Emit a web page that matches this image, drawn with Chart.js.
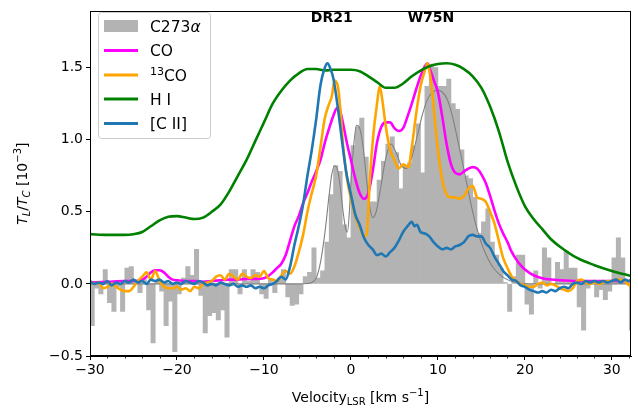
<!DOCTYPE html>
<html><head><meta charset="utf-8">
<script src="https://cdn.jsdelivr.net/npm/chart.js@4/dist/chart.umd.min.js"></script>
<style>html,body{margin:0;padding:0;background:#fff}</style>
</head><body>
<canvas id="c" width="638" height="409"></canvas>
<script>
// ---------------- DATA ----------------
// C273alpha recombination line spectrum: 0.5 km/s channels starting at -30 km/s
const rrlStart = -30, rrlChannel = 0.5;
const rrlValues = [
 -0.29,-0.03,-0.07,0.10,-0.13,-0.19,-0.02,-0.19,0.11,0.12,
 0.02,-0.06,0.03,-0.18,-0.41,0.03,-0.05,-0.29,-0.12,-0.47,
 -0.07,0.04,0.12,0.06,0.24,-0.08,-0.34,-0.22,-0.20,-0.25,
 -0.18,-0.37,0.10,0.10,-0.07,0.10,0.02,0.10,0.08,-0.07,
 -0.10,0.03,-0.06,0.04,0.10,-0.09,-0.15,-0.14,-0.07,0.05,
 0.08,0.25,0.04,0.09,0.29,0.62,0.82,0.78,0.41,0.32,
 0.96,1.09,1.15,0.88,0.57,0.57,0.72,0.85,0.97,1.02,
 0.91,0.66,0.82,0.84,0.96,1.11,0.77,1.37,1.52,1.50,
 1.37,1.37,1.42,1.25,1.21,0.93,0.75,0.73,0.60,0.35,
 0.43,0.52,0.29,0.20,0.11,0.01,-0.19,0.05,0.20,0.20,
 -0.14,-0.21,0.09,-0.03,0.25,0.18,0.00,0.15,0.10,0.23,
 0.11,0.11,-0.16,-0.32,-0.03,0.01,-0.09,-0.04,-0.11,-0.05,
 0.18,0.32,0.18,0.01,-0.32
];
// Gaussian fit to the recombination line
const fitVel = [-30,-10,-6,-5,-4.5,-4,-3.5,-3,-2.5,-2.2,-1.85,-1.5,-1.2,-0.9,-0.6,-0.4,-0.2,0,0.3,0.65,1.0,1.4,1.8,2.2,2.5,2.9,3.4,4.0,4.6,5.2,5.8,6.4,7.0,7.6,8.2,8.8,9.4,10.0,10.5,11.0,11.6,12.2,12.8,13.4,14.0,14.6,15.2,15.8,16.4,17.0,17.8,18.6,19.5,22,32.2];
const fitVal = [0,0,0,0.003,0.01,0.04,0.15,0.35,0.62,0.76,0.82,0.78,0.66,0.50,0.38,0.36,0.48,0.70,0.95,1.10,1.08,0.95,0.72,0.52,0.46,0.50,0.66,0.87,0.97,0.91,0.82,0.80,0.88,1.02,1.17,1.28,1.33,1.345,1.33,1.29,1.18,1.02,0.85,0.67,0.50,0.36,0.25,0.17,0.11,0.07,0.035,0.015,0.005,0,0];

const hiVel = [-30,-28,-26,-25,-24,-23,-22,-21,-20,-19,-18,-17,-16,-15,-14,-13,-12,-11,-10,-9,-8,-7,-6,-5,-4,-3,-2,-1,0,1,2,3,4,5,6,7,8,9,10,11,12,13,14,15,16,17,18,19,20,21,22,23,24,26,28,30,32.2];
const hiVal = [0.345,0.34,0.34,0.345,0.36,0.40,0.44,0.465,0.47,0.46,0.45,0.46,0.50,0.55,0.64,0.75,0.86,0.99,1.12,1.25,1.34,1.41,1.46,1.49,1.49,1.48,1.485,1.485,1.485,1.475,1.44,1.40,1.36,1.36,1.39,1.44,1.48,1.51,1.525,1.53,1.52,1.49,1.44,1.36,1.23,1.06,0.85,0.68,0.54,0.45,0.38,0.31,0.26,0.18,0.13,0.09,0.055];

const coVel = [-30,-28,-26,-25,-24,-23.5,-23,-22.5,-22,-21.5,-21,-20.5,-20,-19,-18,-17,-16,-15,-14,-13,-12,-11,-10,-9.5,-9,-8.5,-8,-7.5,-7,-6.5,-6,-5.5,-5,-4.5,-4,-3.5,-3,-2.5,-2,-1.6,-1.2,-0.8,-0.4,0,0.5,1,1.5,2,2.5,3,3.5,4,4.5,5,5.5,6,6.5,7,7.5,8,8.5,8.8,9.2,9.6,10,10.5,11,11.5,12,12.5,13,13.5,14,14.5,15,15.5,16,16.5,17,17.5,18,18.5,19,19.5,20,21,22,23,24,26,28,30,32.2];
const coVal = [0.01,0.015,0.02,0.02,0.03,0.05,0.08,0.095,0.095,0.08,0.05,0.03,0.025,0.02,0.02,0.015,0.02,0.025,0.03,0.03,0.035,0.035,0.04,0.055,0.08,0.11,0.14,0.20,0.30,0.40,0.47,0.56,0.63,0.71,0.78,0.86,0.98,1.08,1.17,1.22,1.19,1.08,0.96,0.86,0.73,0.63,0.59,0.63,0.78,0.98,1.09,1.12,1.12,1.08,1.06,1.08,1.16,1.25,1.35,1.44,1.51,1.53,1.47,1.40,1.33,1.16,0.97,0.83,0.77,0.76,0.78,0.80,0.81,0.80,0.76,0.70,0.61,0.51,0.42,0.35,0.29,0.22,0.17,0.13,0.10,0.06,0.04,0.03,0.025,0.02,0.02,0.02,0.02];

const co13Vel = [-30,-29.5,-29,-28.5,-28,-27.5,-27,-26.5,-26,-25.5,-25,-24.5,-24,-23.5,-23,-22.5,-22,-21.5,-21,-20.5,-20,-19.5,-19,-18.5,-18,-17.5,-17,-16.5,-16,-15.5,-15,-14.5,-14,-13.5,-13,-12.5,-12,-11.5,-11,-10.5,-10,-9.5,-9,-8.5,-8,-7.5,-7,-6.5,-6,-5.5,-5,-4.5,-4,-3.5,-3,-2.5,-2.2,-1.9,-1.5,-1.2,-0.9,-0.5,0,0.5,1,1.5,1.8,2.2,2.6,3.0,3.3,3.6,3.9,4.2,4.5,5,5.5,6,6.3,6.6,7,7.5,8,8.5,8.8,9.1,9.4,9.7,10,10.5,11,11.5,12,12.5,13,13.5,14,14.5,15,15.5,16,16.5,17,17.5,18,18.5,19,19.5,20,20.5,21,21.5,22,22.5,23,23.5,24,24.5,25,25.5,26,26.5,27,27.5,28,28.5,29,29.5,30,30.5,31,31.5,32,32.2];
const co13Val = [0.02,0.0,0.01,-0.03,-0.02,0.0,-0.02,-0.04,-0.05,-0.05,-0.02,0.02,0.05,0.08,0.03,0.09,0.02,-0.02,-0.03,-0.03,-0.02,-0.04,-0.03,-0.05,-0.02,-0.03,0.0,0.01,0.02,0.05,0.06,0.03,0.07,0.05,0.03,0.07,0.05,0.04,0.06,0.05,0.09,0.04,0.03,0.02,0.06,0.09,0.07,0.12,0.22,0.34,0.50,0.63,0.75,0.95,1.15,1.25,1.30,1.41,1.37,1.20,0.96,0.75,0.59,0.47,0.39,0.33,0.34,0.75,1.05,1.25,1.37,1.28,1.14,1.02,0.93,0.86,0.80,0.83,0.82,0.81,0.95,1.18,1.37,1.48,1.53,1.45,1.30,1.10,0.93,0.72,0.62,0.60,0.60,0.59,0.61,0.66,0.68,0.60,0.59,0.57,0.50,0.42,0.30,0.18,0.11,0.05,0.02,0.0,-0.01,-0.02,-0.02,0.0,0.01,-0.01,0.0,-0.01,-0.03,-0.04,-0.05,-0.03,0.02,0.03,0.01,0.0,0.01,0.0,0.01,0.02,0.02,0.03,0.03,0.02,-0.01,0.01];

const ciiVel = [-30,-29.5,-29,-28.5,-28,-27.5,-27,-26.5,-26,-25.5,-25,-24.5,-24,-23.5,-23,-22.5,-22,-21.5,-21,-20.5,-20,-19.5,-19,-18.5,-18,-17.5,-17,-16.5,-16,-15.5,-15,-14.5,-14,-13.5,-13,-12.5,-12,-11.5,-11,-10.5,-10,-9.5,-9,-8.5,-8,-7.5,-7,-6.5,-6,-5.5,-5,-4.5,-4,-3.5,-3,-2.7,-2.4,-2,-1.5,-1,-0.5,0,0.5,1,1.5,2,2.5,3,3.5,4,4.5,5,5.5,6,6.5,7,7.3,7.6,8,8.5,9,9.5,10,10.5,11,11.5,12,12.5,13,13.5,14,14.5,15,15.5,16,16.5,17,17.5,18,18.5,19,19.5,20,20.5,21,21.5,22,22.5,23,23.5,24,24.5,25,25.5,26,26.5,27,27.5,28,28.5,29,29.5,30,30.5,31,31.5,32,32.2];
const ciiVal = [0.02,0.0,0.01,0.0,0.02,-0.01,0.01,0.0,0.02,0.01,0.03,0.01,0.02,0.0,0.03,0.02,0.03,0.01,0.02,0.0,0.01,0.0,0.02,0.01,0.0,0.02,0.01,-0.01,0.0,-0.01,0.01,0.0,-0.01,0.0,-0.02,-0.01,-0.02,-0.01,-0.03,-0.02,-0.03,-0.01,0.0,0.02,0.05,0.03,0.12,0.27,0.40,0.55,0.75,0.93,1.14,1.38,1.50,1.53,1.50,1.42,1.22,0.98,0.76,0.62,0.48,0.41,0.32,0.27,0.24,0.20,0.21,0.19,0.22,0.25,0.30,0.36,0.40,0.43,0.40,0.41,0.36,0.35,0.33,0.29,0.26,0.24,0.25,0.24,0.26,0.27,0.29,0.33,0.34,0.33,0.33,0.28,0.25,0.19,0.14,0.09,0.06,0.03,0.02,-0.01,-0.02,-0.04,-0.05,-0.06,-0.05,-0.06,-0.04,-0.05,-0.03,-0.02,-0.03,0.0,0.01,0.0,0.02,0.01,0.02,0.01,0.02,0.01,0.02,0.03,0.01,0.03,0.02,0.03];

const xTicks = {min: -30, max: 32.2, step: 10, minorStep: 2};
const yTicks = {min: -0.5, max: 1.89, step: 0.5};
const sourceLabels = [{text: 'DR21', v: -2.2}, {text: 'W75N', v: 9.2}];
const legendNames = ['C273α', 'CO', '13CO', 'H I', '[C II]'];

// ---------------- build ----------------
const pts = (xs, ys) => xs.map((x, i) => ({x, y: ys[i]}));
const rrlPts = rrlValues.map((y, i) => ({x: rrlStart + rrlChannel * (i + 0.5), y}));

const FONT = "'DejaVu Sans', sans-serif";
const colors = {rrl: '#b3b3b3', fit: '#808080', co: '#ff00ff', co13: '#ffa500', hi: '#008000', cii: '#1f77b4'};
const lw = 2.6;
const lineDs = (data, color, order, width) => ({type: 'line', data, borderColor: color, borderWidth: width || lw,
  pointRadius: 0, fill: false, cubicInterpolationMode: 'monotone', order, borderJoinStyle: 'round'});

function minus(s) { return s.replace('-', '\u2212'); }

function drawRich(ctx, segs, x, y, align) {
  let w = 0;
  segs.forEach(s => { ctx.font = s.font; s.w = ctx.measureText(s.t).width; w += s.w; });
  let cx = align === 'center' ? x - w / 2 : x;
  ctx.textBaseline = 'alphabetic'; ctx.textAlign = 'left';
  segs.forEach(s => { ctx.font = s.font; ctx.fillText(s.t, cx, y + (s.dy || 0)); cx += s.w; });
}

const decor = {
  id: 'decor',
  afterDraw(chart) {
    const ctx = chart.ctx, a = chart.chartArea, xs = chart.scales.x;
    ctx.save();
    ctx.fillStyle = '#000'; ctx.strokeStyle = '#000';
    // frame
    ctx.lineWidth = 1;
    ctx.strokeRect(Math.round(a.left) + 0.5, Math.round(a.top) + 0.5, Math.round(a.right - a.left) - 1, Math.round(a.bottom - a.top) - 1);
    // minor ticks on x
    ctx.lineWidth = 0.8;
    for (let v = xTicks.min; v <= xTicks.max; v += xTicks.minorStep) {
      if (Math.abs(v % xTicks.step) < 1e-6) continue;
      const px = Math.round(xs.getPixelForValue(v)) + 0.5;
      ctx.beginPath(); ctx.moveTo(px, a.bottom); ctx.lineTo(px, a.bottom + 2.5); ctx.stroke();
    }
    // source labels
    ctx.font = 'bold 14px ' + FONT; ctx.textAlign = 'center'; ctx.textBaseline = 'middle';
    sourceLabels.forEach(s => ctx.fillText(s.text, xs.getPixelForValue(s.v), 18));
    // legend
    const L = {x: 98.5, y: 12.5, w: 112, h: 126, r: 3};
    ctx.beginPath();
    ctx.roundRect(L.x, L.y, L.w, L.h, L.r);
    ctx.fillStyle = 'rgba(255,255,255,0.8)'; ctx.fill();
    ctx.strokeStyle = '#cccccc'; ctx.lineWidth = 1; ctx.stroke();
    const rows = [26, 50.5, 75, 99, 123.5];
    const handleCols = [colors.rrl, colors.co, colors.co13, colors.hi, colors.cii];
    rows.forEach((ry, i) => {
      if (i === 0) { ctx.fillStyle = colors.rrl; ctx.fillRect(104, ry - 6, 34, 12); }
      else { ctx.strokeStyle = handleCols[i]; ctx.lineWidth = 3; ctx.beginPath(); ctx.moveTo(104, ry); ctx.lineTo(138, ry); ctx.stroke(); }
    });
    ctx.fillStyle = '#000';
    const lf = '15.5px ' + FONT, lfi = 'italic 15.5px ' + FONT, lfs = '11px ' + FONT;
    drawRich(ctx, [{t: 'C273', font: lf}, {t: 'α', font: lfi}], 150, rows[0] + 5.5, 'left');
    drawRich(ctx, [{t: legendNames[1], font: lf}], 150, rows[1] + 5.5, 'left');
    drawRich(ctx, [{t: '13', font: lfs, dy: -6}, {t: 'CO', font: lf}], 150, rows[2] + 5.5, 'left');
    drawRich(ctx, [{t: legendNames[3], font: lf}], 150, rows[3] + 5.5, 'left');
    drawRich(ctx, [{t: legendNames[4], font: lf}], 150, rows[4] + 5.5, 'left');
    // x title
    const tf = '14px ' + FONT, tfs = '10px ' + FONT, tfi = 'italic 14px ' + FONT, tfis = 'italic 10px ' + FONT;
    drawRich(ctx, [{t: 'Velocity', font: tf}, {t: 'LSR', font: tfs, dy: 3}, {t: ' [km s', font: tf}, {t: '\u22121', font: tfs, dy: -6}, {t: ']', font: tf}],
      (a.left + a.right) / 2, 402, 'center');
    // y title
    ctx.save();
    ctx.translate(27, (a.top + a.bottom) / 2);
    ctx.rotate(-Math.PI / 2);
    drawRich(ctx, [{t: 'T', font: tfi}, {t: 'L', font: tfis, dy: 3}, {t: '/', font: tf}, {t: 'T', font: tfi}, {t: 'C', font: tfis, dy: 3},
      {t: ' [10', font: tf}, {t: '\u22123', font: tfs, dy: -6}, {t: ']', font: tf}], 0, 0, 'center');
    ctx.restore();
    ctx.restore();
  }
};

new Chart(document.getElementById('c'), {
  data: {
    datasets: [
      lineDs(pts(ciiVel, ciiVal), colors.cii, 0),
      lineDs(pts(hiVel, hiVal), colors.hi, 1),
      lineDs(pts(co13Vel, co13Val), colors.co13, 2),
      lineDs(pts(coVel, coVal), colors.co, 3),
      lineDs(pts(fitVel, fitVal), colors.fit, 4, 1.1),
      {type: 'bar', data: rrlPts, backgroundColor: colors.rrl, borderWidth: 0, barPercentage: 1, categoryPercentage: 1, order: 5}
    ]
  },
  options: {
    responsive: false, animation: false, devicePixelRatio: 1,
    layout: {padding: {top: 6, right: 7, left: 0, bottom: 0}},
    plugins: {legend: {display: false}, tooltip: {enabled: false}},
    scales: {
      x: {type: 'linear', min: xTicks.min, max: xTicks.max, offset: false,
        afterFit: s => { s.height = 53; },
        ticks: {stepSize: xTicks.step, includeBounds: false, color: '#000', font: {family: FONT, size: 14}, padding: 2, maxRotation: 0,
          callback: v => minus(String(Math.round(v)))},
        grid: {drawOnChartArea: false, drawTicks: true, tickLength: 4, tickColor: '#000', tickWidth: 1, offset: false},
        border: {display: true, color: '#000', width: 1}},
      y: {type: 'linear', min: yTicks.min, max: yTicks.max,
        afterFit: s => { s.width = 90; },
        ticks: {stepSize: yTicks.step, includeBounds: false, color: '#000', font: {family: FONT, size: 14}, padding: 3,
          callback: v => minus(v.toFixed(1))},
        grid: {drawOnChartArea: false, drawTicks: true, tickLength: 4, tickColor: '#000', tickWidth: 1},
        border: {display: true, color: '#000', width: 1}}
    }
  },
  plugins: [decor]
});
</script>
</body></html>
